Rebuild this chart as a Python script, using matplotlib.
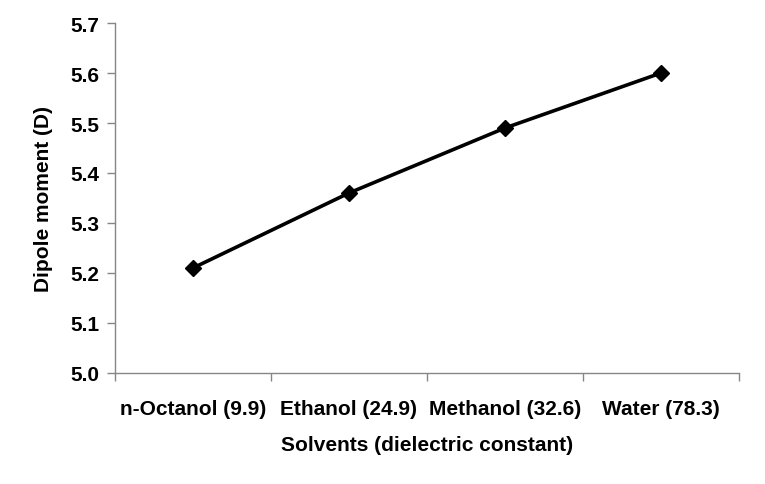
import matplotlib.pyplot as plt

solvents = ['n-Octanol (9.9)', 'Ethanol (24.9)', 'Methanol (32.6)', 'Water (78.3)']
dipole = [5.21, 5.36, 5.49, 5.60]
yticks = [5.0, 5.1, 5.2, 5.3, 5.4, 5.5, 5.6, 5.7]

plt.rcParams['font.family'] = ['Liberation Sans', 'DejaVu Sans']
plt.rcParams['font.weight'] = 'bold'

fig = plt.figure(figsize=(7.65, 4.85), dpi=100)
ax = fig.add_axes([0.1503, 0.2289, 0.8157, 0.7216])

x = list(range(len(solvents)))
ax.plot(x, dipole, color='black', linewidth=2.6, marker='D', markersize=8.5,
        markerfacecolor='black', markeredgecolor='black')

ax.set_xlim(-0.5, len(solvents) - 0.5)
ax.set_ylim(5.0, 5.7)
ax.set_yticks(yticks)
ax.set_yticklabels([f'{v:.1f}' for v in yticks], fontsize=15, fontweight='bold')
ax.set_xticks([i - 0.5 for i in range(len(solvents) + 1)])
ax.set_xticklabels([])
ax.set_xticks(x, minor=True)
ax.set_xticklabels(solvents, minor=True, fontsize=15, fontweight='bold')
ax.tick_params(axis='x', which='minor', length=0, pad=19)
ax.tick_params(axis='both', which='major', length=6, width=1, color='#868686', direction='out')
ax.tick_params(axis='y', pad=5)

for s in ['top', 'right']:
    ax.spines[s].set_visible(False)
for s in ['left', 'bottom']:
    ax.spines[s].set_color('#868686')
    ax.spines[s].set_linewidth(1)

ax.set_xlabel('Solvents (dielectric constant)', fontsize=15, fontweight='bold', labelpad=12)
ax.set_ylabel('Dipole moment (D)', fontsize=15, fontweight='bold', labelpad=13)

fig.savefig('out.png', dpi=100)
